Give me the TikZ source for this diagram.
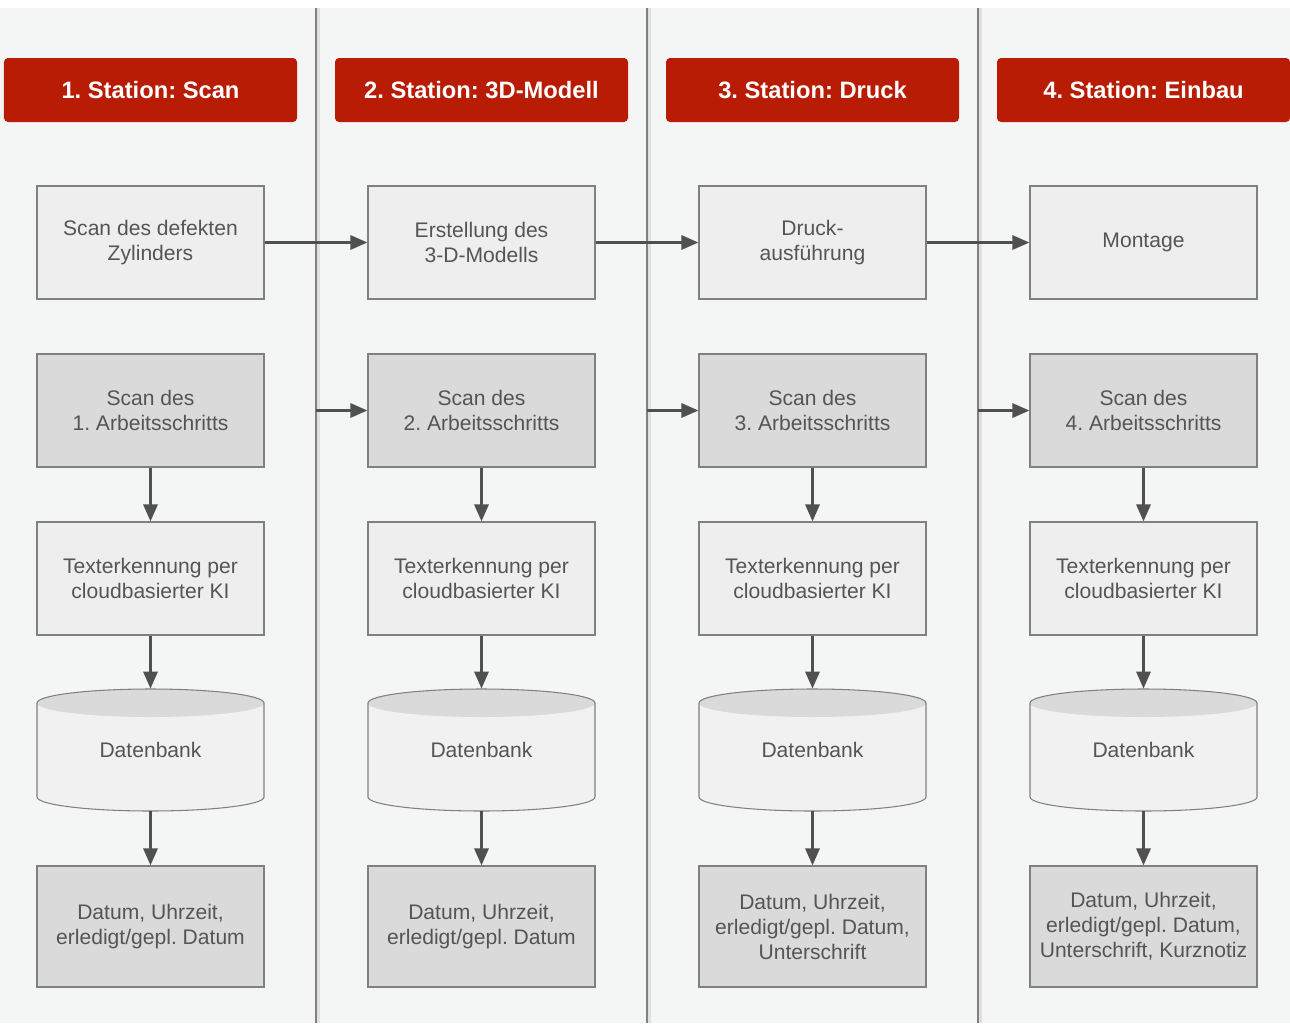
\documentclass[tikz,border=0pt]{standalone}
\usepackage{fontspec}
\setmainfont{Liberation Sans}
\usepackage{tikz}
\usetikzlibrary{arrows.meta, positioning, calc}
\definecolor{red1}{RGB}{185, 28, 5}
\definecolor{lanebg}{RGB}{244, 245, 245}
\definecolor{lightbox}{RGB}{238, 238, 238}
\definecolor{darkbox}{RGB}{218, 218, 218}
\definecolor{dbbody}{RGB}{241, 241, 241}
\definecolor{boxline}{RGB}{128, 128, 128}
\definecolor{txt}{RGB}{85, 85, 85}
\definecolor{arr}{RGB}{80, 80, 80}
\frenchspacing

\begin{document}
\begin{tikzpicture}[
  headbox/.style={fill=red1, rounded corners=2.3pt, minimum width=5.86cm, minimum height=1.28cm, text=white, font=\fontsize{13.5}{16}\selectfont\bfseries},
  stepbox/.style={draw=boxline, line width=0.6pt, fill=lightbox, minimum width=4.54cm, minimum height=2.26cm, align=center, text=txt, font=\fontsize{12}{14.2}\selectfont},
  scanbox/.style={stepbox, fill=darkbox},
  infobox/.style={stepbox, fill=darkbox, minimum height=2.42cm},
  dbbox/.style={minimum width=4.54cm, minimum height=2.44cm, align=center, text=txt, font=\fontsize{12}{14.2}\selectfont},
  flow/.style={draw=arr, line width=1.7pt, -{Triangle[length=0.34cm, width=0.28cm]}}
]
  \useasboundingbox (0,0) rectangle (25.8,-20.46);
  \fill[white] (0,0) rectangle (25.8,-20.46);
  \fill[lanebg] (0,-0.16) rectangle (25.8,-20.46);

  \foreach \i/\hd/\first/\last in {
    1/{1. Station: Scan}/{Scan des defekten\\Zylinders}/{Datum, Uhrzeit,\\erledigt/gepl. Datum},
    2/{2. Station: 3D-Modell}/{Erstellung des\\3-D-Modells}/{Datum, Uhrzeit,\\erledigt/gepl. Datum},
    3/{3. Station: Druck}/{Druck-\\ausführung}/{Datum, Uhrzeit,\\erledigt/gepl. Datum,\\Unterschrift},
    4/{4. Station: Einbau}/{Montage}/{Datum, Uhrzeit,\\erledigt/gepl. Datum,\\Unterschrift, Kurznotiz}} {
    \pgfmathsetmacro\x{3.01+6.62*(\i-1)}
    \ifnum\i>1
      \fill[black!12] (6.62*\i-6.62-0.3,-0.16) rectangle ++(0.08,-20.3);
      \draw[boxline, line width=0.8pt] (6.62*\i-6.62-0.3,-0.16) -- ++(0,-20.3);
      \coordinate (div\i) at (6.62*\i-6.62-0.3,-8.21);
    \fi
    \node[headbox] (head\i) at (\x,-1.8) {\hd};
    \node[stepbox] (task\i) at (\x,-4.85) {\first};
    \node[scanbox] (scan\i) at (\x,-8.21) {Scan des\\\i. Arbeitsschritts};
    \node[stepbox] (ocr\i) at (\x,-11.57) {Texterkennung per\\cloudbasierter KI};
    \fill[dbbody] (\x-2.27,-14.06) -- (\x-2.27,-15.94) arc[start angle=180, end angle=360, x radius=2.27cm, y radius=0.28cm] -- (\x+2.27,-14.06) arc[start angle=0, end angle=180, x radius=2.27cm, y radius=0.28cm] -- cycle;
    \fill[darkbox] (\x,-14.06) ellipse[x radius=2.27cm, y radius=0.28cm];
    \draw[boxline, line width=0.6pt] (\x-2.27,-14.06) -- (\x-2.27,-15.94) arc[start angle=180, end angle=360, x radius=2.27cm, y radius=0.28cm] -- (\x+2.27,-14.06) arc[start angle=0, end angle=180, x radius=2.27cm, y radius=0.28cm];
    \node[dbbox] (db\i) at (\x,-15.0) {Datenbank};
    \node[infobox] (info\i) at (\x,-18.53) {\last};
    \draw[flow] (scan\i) -- (ocr\i);
    \draw[flow] (ocr\i) -- (db\i);
    \draw[flow] (db\i) -- (info\i);
  }
  \foreach \i [count=\j from 2] in {1,2,3} {
    \draw[flow] (task\i) -- (task\j);
    \draw[flow] (div\j) -- (scan\j);
  }
\end{tikzpicture}
\end{document}
